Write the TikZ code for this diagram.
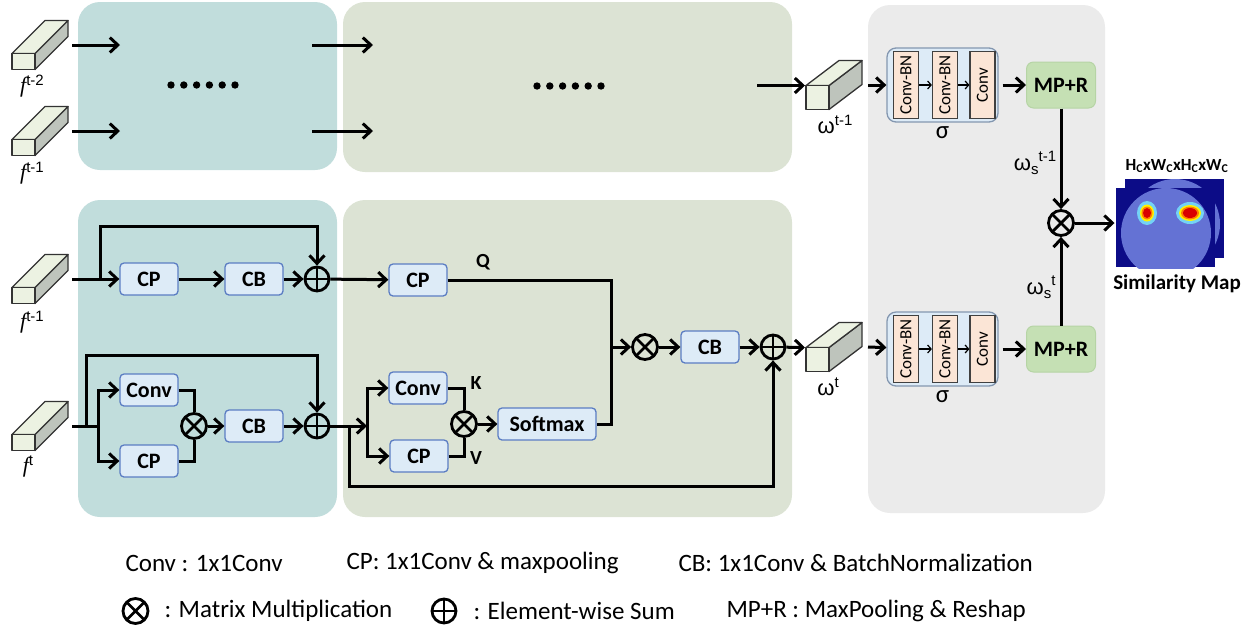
\documentclass[tikz,border=0pt]{standalone}
\usepackage{fontspec}
\setmainfont{Carlito}
\newfontfamily\arialfont{Liberation Sans}
\newfontfamily\timesfont{Liberation Serif}
\usetikzlibrary{arrows.meta}

\definecolor{tealbg}{RGB}{193,221,220}
\definecolor{greenbg}{RGB}{220,227,212}
\definecolor{graybg}{RGB}{235,235,235}
\definecolor{blkfill}{RGB}{221,235,247}
\definecolor{blkline}{RGB}{91,125,195}
\definecolor{mprfill}{RGB}{197,224,180}
\definecolor{mprline}{RGB}{182,212,165}
\definecolor{sigline}{RGB}{132,151,176}
\definecolor{stripfill}{RGB}{251,229,214}
\definecolor{featfill}{RGB}{236,242,226}
\definecolor{featgray}{RGB}{190,196,188}
\definecolor{mapdark}{RGB}{12,12,135}
\definecolor{mapdisk}{RGB}{100,114,212}

\tikzset{
  blk/.style={draw=blkline, fill=blkfill, rounded corners=4pt, line width=1.3pt,
    minimum width=58pt, minimum height=32pt, inner sep=1pt,
    font=\bfseries\fontsize{22}{24}\selectfont},
  mpr/.style={draw=mprline, fill=mprfill, rounded corners=7pt, line width=1pt,
    minimum width=69pt, minimum height=46pt, inner sep=1pt,
    font=\bfseries\fontsize{22}{24}\selectfont},
  sigbox/.style={draw=sigline, fill=blkfill, rounded corners=9pt, line width=1.3pt,
    minimum width=111pt, minimum height=74pt},
  strip/.style={draw=black!75, fill=stripfill, line width=1.2pt,
    minimum width=25pt, minimum height=67pt, inner sep=0pt,
    font=\fontsize{17}{18}\selectfont},
  featface/.style={draw=black!80, fill=featfill, line width=1.3pt, line join=round},
  featside/.style={draw=black!80, fill=featgray, line width=1.3pt, line join=round},
  oplus/.style={circle, draw, line width=2.8pt, minimum size=24pt, inner sep=0pt,
    path picture={\draw[line width=2.8pt] (path picture bounding box.north) -- (path picture bounding box.south)
      (path picture bounding box.west) -- (path picture bounding box.east);}},
  otimes/.style={circle, draw, line width=2.8pt, minimum size=25pt, inner sep=0pt,
    path picture={\draw[line width=2.8pt] (path picture bounding box.north west) -- (path picture bounding box.south east)
      (path picture bounding box.south west) -- (path picture bounding box.north east);}},
  tiny/.style={line width=1.2pt, -{Straight Barb[length=3.5pt,width=8pt]}},
  lgd/.style={anchor=west, inner sep=0pt, font=\fontsize{25}{28}\selectfont},
  qkv/.style={font=\bfseries\fontsize{20}{21}\selectfont},
}

% feature cuboid: name, x, y of front bottom left, front height, depth
\newcommand{\feat}[5]{%
  \filldraw[featside] (#2+23,#3) -- (#2+23,#3-#4) -- (#2+56,#3-#4-#5) -- (#2+56,#3-#5) -- cycle;
  \filldraw[featface] (#2,#3-#4) -- (#2+23,#3-#4) -- (#2+56,#3-#4-#5) -- (#2+33,#3-#4-#5) -- cycle;
  \filldraw[featface] (#2,#3) rectangle (#2+23,#3-#4);
  \coordinate (#1-e) at (#2+60,#3-#4/2-#5/2);
  \coordinate (#1-w) at (#2-1,#3-#4);
}
% sigma block: name, x, y
\newcommand{\sigblock}[3]{%
  \node[sigbox] (#1) at (#2,#3) {};
  \node[strip] (#1-a) at (#2-36.5,#3) {\rotatebox{90}{Conv-BN}};
  \node[strip] (#1-b) at (#2+2.5,#3) {\rotatebox{90}{Conv-BN}};
  \node[strip] (#1-c) at (#2+40,#3) {\rotatebox{90}{Conv}};
  \draw[tiny] (#1-a) -- (#1-b);
  \draw[tiny] (#1-b) -- (#1-c);
  \node[font=\fontsize{25}{26}\selectfont] (#1-l) at (#2,#3+48) {σ};
}
\newcommand{\flab}[1]{{\timesfont\fontsize{22}{22}\selectfont\itshape f}\raisebox{7pt}{\arialfont\fontsize{15}{15}\selectfont #1}}
\newcommand{\wlab}[1]{{\arialfont\fontsize{22}{22}\selectfont ω\raisebox{8pt}{\fontsize{15}{15}\selectfont #1}}}
\newcommand{\wslab}[1]{{\arialfont\fontsize{22}{22}\selectfont ω\raisebox{-4pt}{\fontsize{15}{15}\selectfont s}\raisebox{9pt}{\fontsize{15}{15}\selectfont #1}}}

\begin{document}
\begin{tikzpicture}[x=1pt, y=-1pt, >={Straight Barb[length=8pt,width=15pt]}, line width=3pt]
    \useasboundingbox (0,0) rectangle (1255,633);

    % panels
    \fill[tealbg, rounded corners=22pt] (78,2) rectangle (337,170);
    \fill[greenbg, rounded corners=22pt] (343,2) rectangle (792,172);
    \fill[tealbg, rounded corners=22pt] (78,200) rectangle (337,517);
    \fill[greenbg, rounded corners=22pt] (343,200) rectangle (792,517);
    \fill[graybg, rounded corners=22pt] (868,5) rectangle (1105,513);

    \foreach \i in {0,...,5} {
        \fill (171+12.8*\i,85) circle (3.7);
        \fill (537+12.8*\i,86) circle (3.7);
    }

    % features
    \feat{fa}{12}{69.5}{16}{33}
    \feat{fb}{12}{155.5}{16}{33}
    \feat{fc}{12}{303.5}{16}{33}
    \feat{fd}{12}{450.5}{16}{33}
    \feat{wa}{806}{109.5}{24}{25}
    \feat{wb}{806}{371.5}{24}{25}

    \node (lfa) at (32,86) {\flab{t-2}};
    \node (lfb) at (32,173) {\flab{t-1}};
    \node (lfc) at (32,322) {\flab{t-1}};
    \node (lfd) at (28,466) {\flab{t}};
    \node (lwa) at (835,124) {\wlab{t-1}};
    \node (lwb) at (828,387) {\wlab{t}};

    % top rows
    \coordinate (tin1) at (120,45);
    \coordinate (tin2) at (120,131);
    \coordinate (tout1) at (312,45);
    \coordinate (tout2) at (312,131);
    \coordinate (gin1) at (373,45);
    \coordinate (gin2) at (373,131);
    \coordinate (gout) at (757,85.5);
    \draw[->] (fa-e) -- (tin1);
    \draw[->] (fb-e) -- (tin2);
    \draw[->] (tout1) -- (gin1);
    \draw[->] (tout2) -- (gin2);
    \draw[->] (gout) -- (wa-w);

    % bottom rows
    \node[blk] (cpa) at (149,279) {CP};
    \node[blk] (cba) at (254,279) {CB};
    \node[oplus] (suma) at (317,279) {};
    \node[blk] (convb) at (149,390) {Conv};
    \node[blk] (cpb) at (149,461) {CP};
    \node[otimes] (mulb) at (194,426) {};
    \node[blk] (cbb) at (254,426) {CB};
    \node[oplus] (sumb) at (317,426) {};

    \node[blk] (cpq) at (418,280) {CP};
    \node[blk] (convk) at (418,388) {Conv};
    \node[blk] (cpv) at (419,456) {CP};
    \node[otimes] (mulkv) at (464,424) {};
    \node[blk, minimum width=98pt] (soft) at (547,424) {Softmax};
    \node[otimes] (mulq) at (645,347) {};
    \node[blk] (cbq) at (710,347) {CB};
    \node[oplus] (sumq) at (773,347) {};

    \node[qkv] (lq) at (483,262) {Q};
    \node[qkv] (lk) at (476,383) {K};
    \node[qkv] (lv) at (476,458) {V};

    \coordinate (ja) at (100,279);
    \coordinate (ta) at (317,226);
    \coordinate (jb1) at (86,426);
    \coordinate (jb2) at (98,426);
    \coordinate (tb) at (317,355);
    \coordinate (jc1) at (349,426);
    \coordinate (jc2) at (367,426);
    \coordinate (bc) at (773,486);
    \coordinate (jq) at (611,347);

    \draw[->] (fc-e) -- (cpa);
    \draw[->] (ja) |- (ta) -- (suma);
    \draw[->] (cpa) -- (cba);
    \draw[->] (cba) -- (suma);
    \draw[->] (suma) -- (cpq);
    \draw (cpq) -| (jq) |- (soft);
    \draw[->] (jq) -- (mulq);
    \draw[->] (mulq) -- (cbq);
    \draw[->] (cbq) -- (sumq);
    \draw[->] (sumq) -- (wb-w);

    \draw (fd-e) -- (jb2);
    \draw[->] (jb1) |- (tb) -- (sumb);
    \draw[->] (jb2) |- (convb);
    \draw[->] (jb2) |- (cpb);
    \draw (convb) -| (mulb);
    \draw (cpb) -| (mulb);
    \draw[->] (mulb) -- (cbb);
    \draw[->] (cbb) -- (sumb);
    \draw[->] (sumb) -- (jc2);
    \draw[->] (jc2) |- (convk);
    \draw[->] (jc2) |- (cpv);
    \draw[->] (jc1) |- (bc) -- (sumq);
    \draw (convk) -| (mulkv);
    \draw (cpv) -| (mulkv);
    \draw[->] (mulkv) -- (soft);

    % similarity branch
    \sigblock{siga}{942.5}{85}
    \sigblock{sigb}{942.5}{349}
    \node[mpr] (mpa) at (1061,85) {MP+R};
    \node[mpr] (mpb) at (1061,349) {MP+R};
    \node[otimes] (muls) at (1061,223) {};
    \node (lwsa) at (1035,163) {\wslab{t-1}};
    \node (lwsb) at (1041,287) {\wslab{t}};

    \node[fill=mapdark, minimum width=99pt, minimum height=79pt, inner sep=0pt] (mapb) at (1174.5,218.5) {};
    \begin{scope}
        \clip (mapb.south west) rectangle (mapb.north east);
        \fill[mapdisk] (1175,224) circle (45);
    \end{scope}
    \node[fill=mapdark, minimum width=99pt, minimum height=79pt, inner sep=0pt] (map) at (1165.5,227.5) {};
    \begin{scope}
        \clip (map.south west) rectangle (map.north east);
        \fill[mapdisk] (1166,233) circle (45);
        \fill[cyan!55!white] (1147,213) ellipse (10 and 12);
        \fill[yellow] (1147,213) ellipse (7 and 8.5);
        \fill[orange] (1147,213) ellipse (5.5 and 6.5);
        \fill[red!85!black] (1147,213) ellipse (4 and 5);
        \fill[cyan!55!white] (1190,213) ellipse (14 and 11);
        \fill[yellow] (1190,213) ellipse (11 and 8);
        \fill[orange] (1190,213) ellipse (9 and 6.5);
        \fill[red!85!black] (1190,213) ellipse (7 and 5);
    \end{scope}
    \node[font=\bfseries\fontsize{17}{18}\selectfont] (lmap) at (1177,166) {H\textsubscript{C}xW\textsubscript{C}xH\textsubscript{C}xW\textsubscript{C}};
    \node[font=\bfseries\fontsize{21}{22}\selectfont] (smap) at (1177,284) {Similarity Map};

    \draw[->, shorten <=2pt] (wa-e) -- (siga);
    \draw[->, shorten <=2pt] (wb-e) -- (sigb);
    \draw[->, shorten <=4pt] (siga) -- (mpa);
    \draw[->, shorten <=4pt] (sigb) -- (mpb);
    \draw[->] (mpa) -- (muls);
    \draw[->] (mpb) -- (muls);
    \draw[->] (muls) -- (muls -| map.west);

    % legend
    \node[otimes] (lgm) at (135.5,611) {};
    \node[oplus] (lgs) at (444,611) {};
    \node[lgd] (lg1) at (124,563) {Conv : 1x1Conv};
    \node[lgd] (lg2) at (345,563) {CP: 1x1Conv \& maxpooling};
    \node[lgd] (lg3) at (677,563) {CB: 1x1Conv \& BatchNormalization};
    \node[lgd] (lg4) at (163,611) {: Matrix Multiplication};
    \node[lgd] (lg5) at (472,611) {: Element-wise Sum};
    \node[lgd] (lg6) at (725,611) {MP+R : MaxPooling \& Reshap};
\end{tikzpicture}
\end{document}
